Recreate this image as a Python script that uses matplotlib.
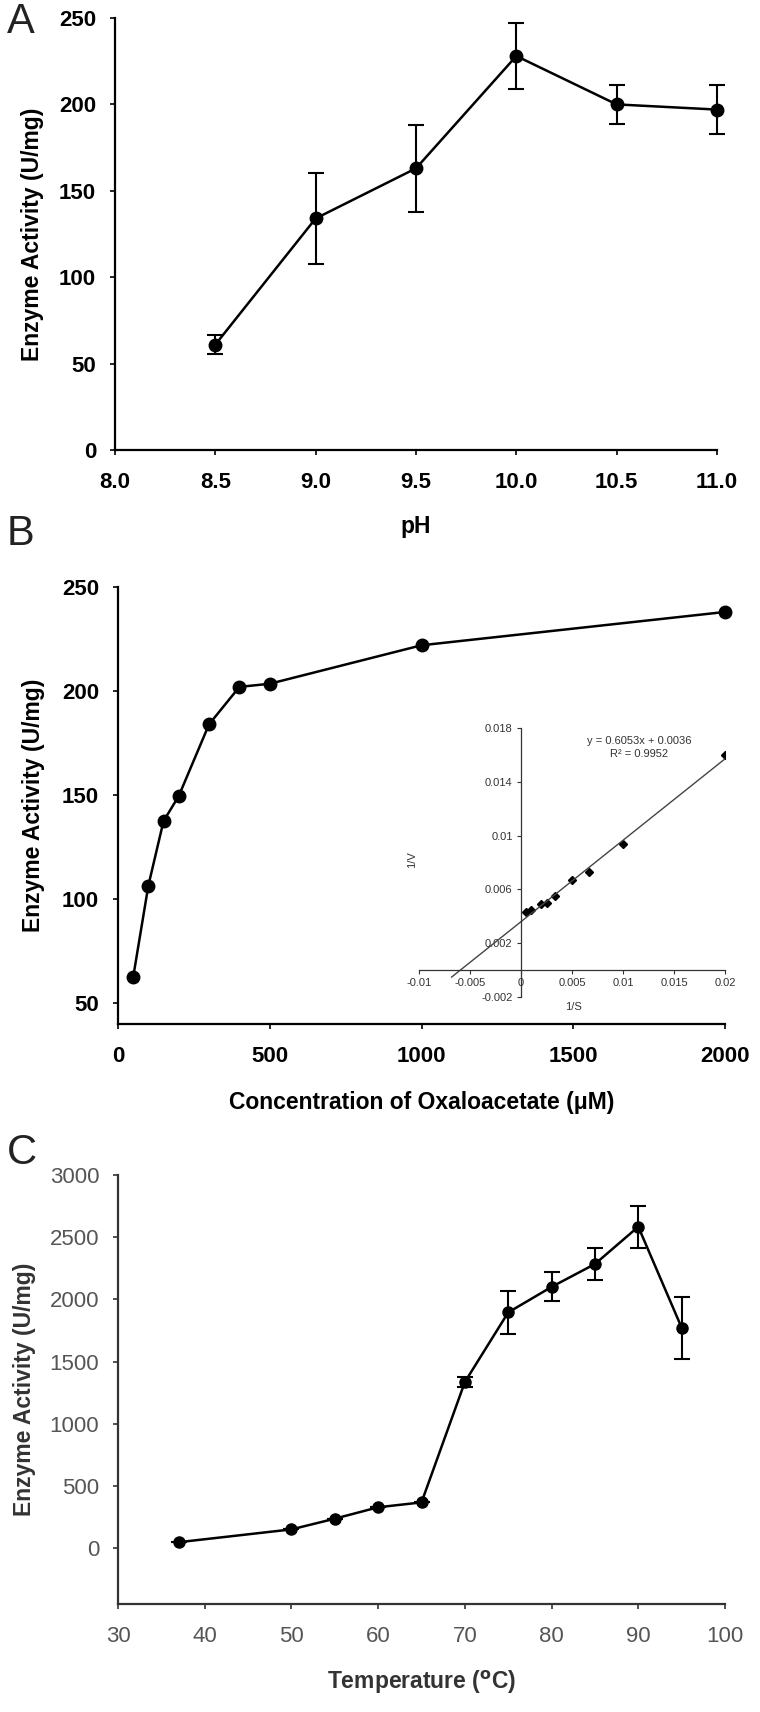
import matplotlib
matplotlib.use('Agg')
import matplotlib.pyplot as plt
import numpy as np

plt.rcParams['font.family'] = ['Liberation Sans', 'DejaVu Sans']

# panel A: pH profile
ph = [8.5, 9.0, 9.5, 10.0, 10.5, 11.0]
act_ph = [61, 134, 163, 228, 200, 197]
err_ph = [5.5, 26.5, 25, 19, 11.5, 14]

# panel B: substrate saturation
conc = [50, 100, 150, 200, 300, 400, 500, 1000, 2000]
act_conc = [62.5, 106.5, 137.5, 149.5, 184, 202, 203.5, 222, 238]

# inset: Lineweaver-Burk
inv_s = [0.02, 0.01, 0.00667, 0.005, 0.00333, 0.0025, 0.002, 0.001, 0.0005]
inv_v = [0.0160, 0.0094, 0.0073, 0.0067, 0.0055, 0.0050, 0.0049, 0.0045, 0.0043]
slope, icpt = 0.6053, 0.0036
fit_x = [-0.0068, 0.02]

# panel C: temperature profile
temp = [37, 50, 55, 60, 65, 70, 75, 80, 85, 90, 95]
act_t = [47, 150, 236, 328, 367, 1335, 1895, 2100, 2284, 2584, 1772]
err_t = [0, 0, 0, 0, 0, 42, 175, 117, 128, 170, 248]

W, H = 760, 1712
fig = plt.figure(figsize=(W / 100, H / 100), dpi=100)


def px_axes(l, r, t, b):
    return fig.add_axes([l / W, 1 - b / H, (r - l) / W, (b - t) / H])


def style(ax, col='black', tcol='black', bold=True):
    for s in ['top', 'right']:
        ax.spines[s].set_visible(False)
    for s in ['left', 'bottom']:
        ax.spines[s].set_linewidth(1.6)
        ax.spines[s].set_color(col)
    ax.tick_params(direction='out', length=3.6, width=1.2, color=col,
                   labelsize=16, labelcolor=tcol)
    ax.tick_params(axis='x', pad=12)
    ax.tick_params(axis='y', pad=10)
    for lab in ax.get_xticklabels() + ax.get_yticklabels():
        lab.set_fontweight('bold' if bold else 'normal')


# ---- A ----
axA = px_axes(115, 717, 18, 450)
axA.errorbar(ph, act_ph, yerr=err_ph, color='black', lw=1.8, marker='o', ms=9,
             capsize=6, elinewidth=1.5, capthick=1.5, clip_on=False)
axA.set_xlim(8.0, 11.0)
axA.set_ylim(0, 250)
axA.set_xticks(np.arange(8.0, 11.01, 0.5))
axA.set_xticklabels(['%.1f' % v for v in np.arange(8.0, 11.01, 0.5)])
axA.set_yticks(range(0, 251, 50))
style(axA)
axA.set_ylabel('Enzyme Activity (U/mg)', fontsize=16.5, fontweight='bold', va='center')
axA.yaxis.set_label_coords((33 - 115) / 602, 0.5)
axA.set_xlabel('pH', fontsize=16.5, fontweight='bold', va='center')
axA.xaxis.set_label_coords(0.5, (450 - 527) / 432)

# ---- B ----
axB = px_axes(118, 725, 587, 1024)
axB.plot(conc, act_conc, color='black', lw=1.8, marker='o', ms=9, clip_on=False)
axB.set_xlim(0, 2000)
axB.set_ylim(40, 250)
axB.set_xticks([0, 500, 1000, 1500, 2000])
axB.set_yticks(range(50, 251, 50))
style(axB)
axB.set_ylabel('Enzyme Activity (U/mg)', fontsize=16.5, fontweight='bold', va='center')
axB.yaxis.set_label_coords((33 - 118) / 607, 0.5)
axB.set_xlabel('Concentration of Oxaloacetate (\u03bcM)', fontsize=16.5,
               fontweight='bold', va='center')
axB.xaxis.set_label_coords(0.5, (1024 - 1103) / 437)

# inset
ins = axB.inset_axes([(419 - 118) / 607, (1024 - 997) / 437,
                      (725 - 419) / 607, (997 - 728) / 437])
ins.patch.set_alpha(0)
ins.plot(inv_s, inv_v, ls='none', marker='D', ms=4, color='black')
fx = np.array(fit_x)
ins.plot(fx, slope * fx + icpt, color='#444444', lw=1)
ins.set_xlim(-0.01, 0.02)
ins.set_ylim(-0.002, 0.018)
ins.spines['left'].set_position(('data', 0))
ins.spines['bottom'].set_position(('data', 0))
for s in ['top', 'right']:
    ins.spines[s].set_visible(False)
for s in ['left', 'bottom']:
    ins.spines[s].set_color('#333333')
    ins.spines[s].set_linewidth(0.9)
ins.set_xticks([-0.01, -0.005, 0, 0.005, 0.01, 0.015, 0.02])
ins.set_xticklabels(['-0.01', '-0.005', '0', '0.005', '0.01', '0.015', '0.02'])
ins.set_yticks([-0.002, 0.002, 0.006, 0.01, 0.014, 0.018])
ins.set_yticklabels(['-0.002', '0.002', '0.006', '0.01', '0.014', '0.018'])
ins.tick_params(direction='out', length=3, width=0.8, color='#333333',
                labelsize=8, labelcolor='#333333', pad=3)
ins.text(0.0116, 0.01704, 'y = 0.6053x + 0.0036', fontsize=8, color='#333333',
         ha='center', va='center')
ins.text(0.0116, 0.01607, 'R\u00b2 = 0.9952', fontsize=8, color='#333333',
         ha='center', va='center')
ins.text((412 - 419) / 306, (997 - 860) / 269, '1/V', transform=ins.transAxes,
         fontsize=8, color='#333333', rotation=90, ha='center', va='center')
ins.text((573 - 419) / 306, (997 - 1007) / 269, '1/S', transform=ins.transAxes,
         fontsize=8, color='#333333', ha='center', va='center')

# ---- C ----
axC = px_axes(118, 725, 1175, 1604)
axC.errorbar(temp, act_t, yerr=err_t, color='black', lw=1.8, marker='o', ms=8,
             capsize=6, elinewidth=1.5, capthick=1.5)
axC.set_xlim(30, 100)
axC.set_ylim(-450, 3000)
axC.set_xticks(range(30, 101, 10))
axC.set_yticks(range(0, 3001, 500))
style(axC, col='#333333', tcol='#555555', bold=False)
axC.set_ylabel('Enzyme Activity (U/mg)', fontsize=16.5, fontweight='bold',
               color='#333333', va='center')
axC.yaxis.set_label_coords((24 - 118) / 607, 0.5)
axC.set_xlabel('Temperature ($\\mathbf{^{o}}$C)', fontsize=16.5, fontweight='bold',
               color='#333333', va='center')
axC.xaxis.set_label_coords(0.5, (1604 - 1682) / 429)

# panel letters
for lab, x, y in [('A', 21, 22), ('B', 20, 534), ('C', 22, 1153)]:
    fig.text(x / W, 1 - y / H, lab, fontsize=30, ha='center', va='center',
             color='#222222')

fig.savefig('out.png', dpi=100)
